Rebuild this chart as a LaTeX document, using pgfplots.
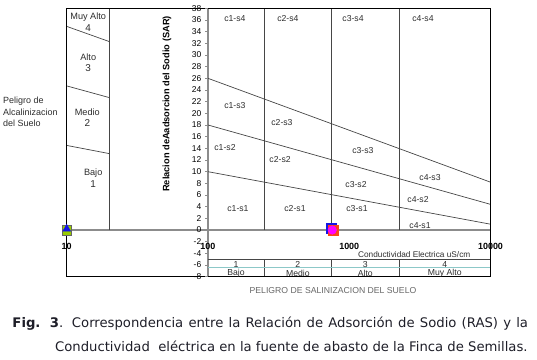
\documentclass[border=0pt]{standalone}
\usepackage{pgfplots}
\pgfplotsset{compat=1.18}
\usepackage{fontspec}
\setmainfont{Liberation Sans}
\newfontfamily\capfont{DejaVu Sans}
\definecolor{linegray}{RGB}{70,70,70}
\definecolor{axgray}{RGB}{140,140,140}
\definecolor{tealline}{RGB}{140,200,200}
\definecolor{txt}{RGB}{45,45,45}
\definecolor{mgreen}{RGB}{153,204,0}
\definecolor{mblue}{RGB}{20,20,230}
\definecolor{mred}{RGB}{250,70,20}
\definecolor{mmag}{RGB}{255,0,255}
\definecolor{capc}{RGB}{30,30,40}
\begin{document}
\begin{tikzpicture}[x=1bp,y=1bp,
  lab/.style={font=\fontsize{8.7}{10}\selectfont, text=txt, inner sep=0pt},
  ytl/.style={font=\fontsize{8.5}{10}\selectfont, text=black, inner sep=0pt, anchor=east, xshift=-6.5bp},
  xtl/.style={font=\bfseries\fontsize{9}{10}\selectfont, text=black, inner sep=0pt}]
\useasboundingbox (0,0) rectangle (537,359);
\begin{axis}[
  at={(66.7bp,82.3bp)}, anchor=south west,
  scale only axis, width=423.8bp, height=268.4bp,
  xmode=log, xmin=10, xmax=10000, ymin=-8, ymax=38,
  axis lines=none, clip=false,
]
% gray zero line and y-axis line
\addplot[axgray, line width=1.1bp] coordinates {(10,0) (10000,0)};
\addplot[axgray, line width=1.1bp] coordinates {(100,-8) (100,38)};
% salinity class boundaries
\addplot[linegray, line width=0.7bp] coordinates {(250,0) (250,38)};
\addplot[linegray, line width=0.7bp] coordinates {(750,0) (750,38)};
\addplot[linegray, line width=0.7bp] coordinates {(2250,0) (2250,38)};
\addplot[linegray, line width=0.7bp] coordinates {(250,-8) (250,-5)};
\addplot[linegray, line width=0.7bp] coordinates {(750,-8) (750,-5)};
\addplot[linegray, line width=0.7bp] coordinates {(2250,-8) (2250,-5)};
\addplot[linegray, line width=0.7bp] coordinates {(100,-5) (10000,-5)};
\addplot[tealline, line width=1.1bp] coordinates {(100,-6.45) (10000,-6.45)};
% left alkalinity panel
\addplot[linegray, line width=0.7bp] coordinates {(20,0) (20,38)};
\addplot[linegray, line width=0.7bp] coordinates {(10,14.5) (20,13.1)};
\addplot[linegray, line width=0.7bp] coordinates {(10,24.7) (20,22.7)};
\addplot[linegray, line width=0.7bp] coordinates {(10,34.9) (20,32.3)};
% sodium class boundaries
\addplot[linegray, line width=0.7bp] coordinates {(100,10) (10000,1.0)};
\addplot[linegray, line width=0.7bp] coordinates {(100,18) (10000,4.4)};
\addplot[linegray, line width=0.7bp] coordinates {(100,26) (10000,8.2)};
% frame
\addplot[black, line width=0.9bp] coordinates {(10,-8) (10,38) (10000,38) (10000,-8)};
\addplot[black, line width=1.4bp] coordinates {(10,-8) (10000,-8)};
% markers
\addplot[only marks, mark=square*, mark size=4.8bp, mark options={fill=mgreen, draw=black!60, line width=0.5bp}] coordinates {(10,0)};
\addplot[only marks, mark=triangle*, mark size=4.5bp, mark options={fill=mblue, draw=mblue}] coordinates {(10,0.2)};
\addplot[only marks, mark=square*, mark size=5bp, mark options={fill=mblue, draw=mblue}] coordinates {(745,0.3)};
\addplot[only marks, mark=square*, mark size=5bp, mark options={fill=mred, draw=mred}] coordinates {(775,-0.1)};
\addplot[only marks, mark=*, mark size=4.3bp, mark options={fill=mmag, draw=mmag}] coordinates {(758,0)};
% y ticks
\pgfplotsinvokeforeach{-8,-6,...,38}{
  \draw[axgray, line width=0.6bp] (axis cs:100,#1) -- ++(-2.5bp,0pt);
  \node[ytl] at (axis cs:100,#1) {#1};
}
% x tick labels
\node[xtl] at (axis cs:10,-2.8) {10};
\node[xtl] at (axis cs:100,-2.8) {100};
\node[xtl] at (axis cs:1000,-2.8) {1000};
\node[xtl] at (axis cs:10000,-2.8) {10000};
\node[lab, font=\fontsize{8.3}{10}\selectfont] at (axis cs:2884,-4.2) {Conductividad Electrica uS/cm};
% band labels
\node[lab] at (axis cs:158,-5.85) {1};
\node[lab] at (axis cs:433,-5.85) {2};
\node[lab] at (axis cs:1299,-5.85) {3};
\node[lab] at (axis cs:4743,-5.85) {4};
\node[lab] at (axis cs:158,-7.35) {Bajo};
\node[lab] at (axis cs:433,-7.35) {Medio};
\node[lab] at (axis cs:1299,-7.35) {Alto};
\node[lab] at (axis cs:4743,-7.35) {Muy Alto};
% cell labels
\node[lab] at (axis cs:155,36.2) {c1-s4};
\node[lab] at (axis cs:368,36.2) {c2-s4};
\node[lab] at (axis cs:1064,36.2) {c3-s4};
\node[lab] at (axis cs:3327,36.2) {c4-s4};
\node[lab] at (axis cs:155,21.4) {c1-s3};
\node[lab] at (axis cs:334,18.5) {c2-s3};
\node[lab] at (axis cs:1250,13.7) {c3-s3};
\node[lab] at (axis cs:3733,9.0) {c4-s3};
\node[lab] at (axis cs:132,14.2) {c1-s2};
\node[lab] at (axis cs:324,12.1) {c2-s2};
\node[lab] at (axis cs:1117,7.8) {c3-s2};
\node[lab] at (axis cs:3069,5.3) {c4-s2};
\node[lab] at (axis cs:163,3.7) {c1-s1};
\node[lab] at (axis cs:413,3.7) {c2-s1};
\node[lab] at (axis cs:1135,3.7) {c3-s1};
\node[lab] at (axis cs:3170,0.8) {c4-s1};
% alkalinity panel labels
\node[lab, font=\fontsize{9.2}{10}\selectfont] at (axis cs:14.2,36.5) {Muy Alto};
\node[lab, font=\fontsize{10}{10}\selectfont] at (axis cs:14.2,34.6) {4};
\node[lab, font=\fontsize{9.2}{10}\selectfont] at (axis cs:14.2,29.6) {Alto};
\node[lab, font=\fontsize{10}{10}\selectfont] at (axis cs:14.2,27.7) {3};
\node[lab, font=\fontsize{9.2}{10}\selectfont] at (axis cs:14.0,20.2) {Medio};
\node[lab, font=\fontsize{10}{10}\selectfont] at (axis cs:14.0,18.3) {2};
\node[lab, font=\fontsize{9.2}{10}\selectfont] at (axis cs:15.4,9.7) {Bajo};
\node[lab, font=\fontsize{10}{10}\selectfont] at (axis cs:15.4,7.8) {1};
% y axis title
\node[rotate=90, font=\bfseries\fontsize{9.3}{10}\selectfont, text=black, inner sep=0pt] at (axis cs:51.3,21.6) {Relacion deAadsorcion del Sodio (SAR)};
\end{axis}
% left description
\node[anchor=base west, font=\fontsize{9}{10}\selectfont, text=txt, inner sep=0pt] at (3,255.7) {Peligro de};
\node[anchor=base west, font=\fontsize{9}{10}\selectfont, text=txt, inner sep=0pt] at (3,244) {Alcalinizacion};
\node[anchor=base west, font=\fontsize{9}{10}\selectfont, text=txt, inner sep=0pt] at (3,233) {del Suelo};
% bottom title
\node[font=\fontsize{8.7}{10}\selectfont, text=black!60, inner sep=0pt] at (333,68) {PELIGRO DE SALINIZACION DEL SUELO};
% caption
\node[anchor=base west, font=\capfont\fontsize{13.25}{14}\selectfont, text=capc, inner sep=0pt] at (12.3,32) {\makebox[515.5bp][s]{\textbf{Fig. 3}. Correspondencia entre la Relación de Adsorción de Sodio (RAS) y la}};
\node[anchor=base east, font=\capfont\fontsize{13.25}{14}\selectfont, text=capc, inner sep=0pt] at (527.8,8) {Conductividad\ \ eléctrica en la fuente de abasto de la Finca de Semillas.};
\end{tikzpicture}
\end{document}
